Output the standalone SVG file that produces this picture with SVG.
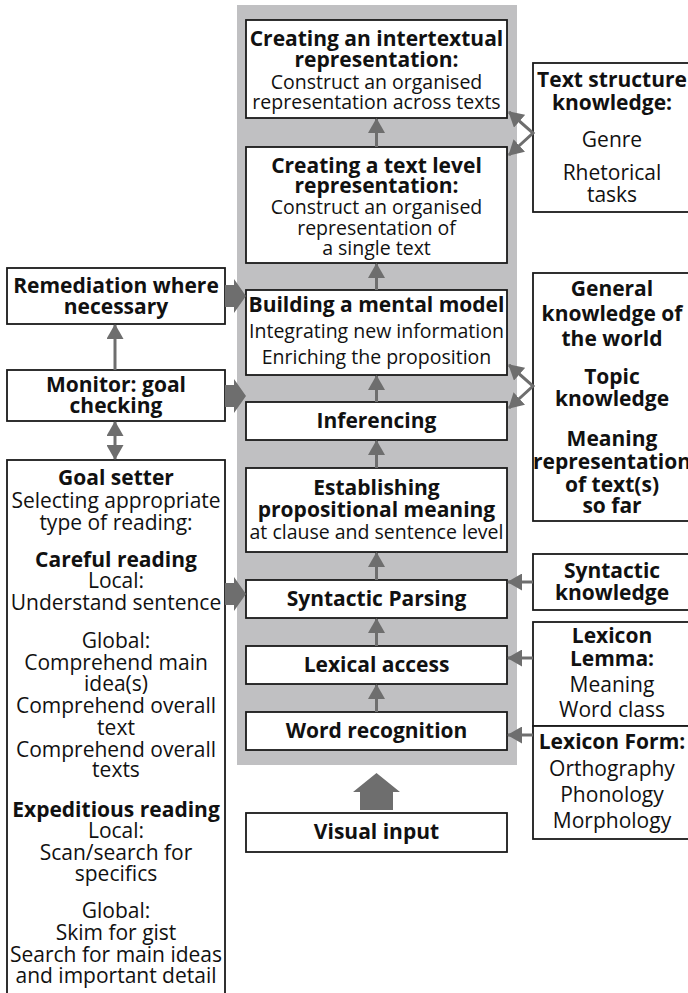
<svg xmlns="http://www.w3.org/2000/svg" width="688" height="993" viewBox="0 0 688 993">
<style>
text{font-family:"Open Sans","Liberation Sans",sans-serif;fill:#111;text-anchor:middle}
.b{font-weight:bold;font-size:21px}
.r{font-size:21px}
.rc{font-size:19.5px}
.box{fill:#fff;stroke:#1a1a1a;stroke-width:1.8}
.ln{stroke:#6e6e6e;stroke-width:3;fill:none}
.blk{fill:#6e6e6e}
</style>
<defs>
<marker id="ah" viewBox="0 0 15 17" markerWidth="15" markerHeight="17" refX="14" refY="8.5" orient="auto-start-reverse" markerUnits="userSpaceOnUse">
<path d="M0,0 L15,8.5 L0,17 z" fill="#6e6e6e"/>
</marker>
</defs>
<rect x="237" y="5" width="280" height="760" fill="#c0c0c2"/>

<g id="intertextual"><rect class="box" x="246" y="20" width="261" height="98"/>
<text><tspan class="b" x="376.5" y="46">Creating an intertextual</tspan><tspan class="b" x="376.5" y="67">representation:</tspan><tspan class="rc" x="376.5" y="89">Construct an organised</tspan><tspan class="rc" x="376.5" y="109">representation across texts</tspan></text></g>

<g id="textlevel"><rect class="box" x="246" y="147" width="261" height="116"/>
<text><tspan class="b" x="376.5" y="173">Creating a text level</tspan><tspan class="b" x="376.5" y="193">representation:</tspan><tspan class="rc" x="376.5" y="214">Construct an organised</tspan><tspan class="rc" x="376.5" y="235">representation of</tspan><tspan class="rc" x="376.5" y="255">a single text</tspan></text></g>

<g id="mentalmodel"><rect class="box" x="246" y="290" width="261" height="85"/>
<text><tspan class="b" x="376.5" y="312">Building a mental model</tspan><tspan class="rc" x="376.5" y="338">Integrating new information</tspan><tspan class="rc" x="376.5" y="364">Enriching the proposition</tspan></text></g>

<g id="inferencing"><rect class="box" x="246" y="402" width="261" height="38"/>
<text class="b" x="376.5" y="428">Inferencing</text></g>

<g id="propositional"><rect class="box" x="246" y="468" width="261" height="84"/>
<text><tspan class="b" x="376.5" y="495">Establishing</tspan><tspan class="b" x="376.5" y="517">propositional meaning</tspan><tspan class="rc" x="376.5" y="539">at clause and sentence level</tspan></text></g>

<g id="parsing"><rect class="box" x="246" y="580" width="261" height="38"/>
<text class="b" x="376.5" y="606">Syntactic Parsing</text></g>

<g id="lexical"><rect class="box" x="246" y="646" width="261" height="38"/>
<text class="b" x="376.5" y="672">Lexical access</text></g>

<g id="wordrec"><rect class="box" x="246" y="712" width="261" height="38"/>
<text class="b" x="376.5" y="738">Word recognition</text></g>

<g id="visual"><rect class="box" x="246" y="813" width="261" height="39"/>
<text class="b" x="376.5" y="839">Visual input</text></g>

<g id="textstructure"><rect class="box" x="533" y="63" width="162" height="149"/>
<text><tspan class="b" x="612" y="87">Text structure</tspan><tspan class="b" x="612" y="110">knowledge:</tspan><tspan class="r" x="612" y="147">Genre</tspan><tspan class="r" x="612" y="180">Rhetorical</tspan><tspan class="r" x="612" y="202">tasks</tspan></text></g>

<g id="general"><rect class="box" x="533" y="273" width="162" height="248"/>
<text><tspan class="b" x="612" y="296">General</tspan><tspan class="b" x="612" y="321">knowledge of</tspan><tspan class="b" x="612" y="346">the world</tspan><tspan class="b" x="612" y="384">Topic</tspan><tspan class="b" x="612" y="406">knowledge</tspan><tspan class="b" x="612" y="446">Meaning</tspan><tspan class="b" x="612" y="469">representation</tspan><tspan class="b" x="612" y="492">of text(s)</tspan><tspan class="b" x="612" y="513">so far</tspan></text></g>

<g id="syntactic"><rect class="box" x="533" y="554" width="162" height="56"/>
<text><tspan class="b" x="612" y="578">Syntactic</tspan><tspan class="b" x="612" y="600">knowledge</tspan></text></g>

<g id="lemma"><rect class="box" x="533" y="622" width="162" height="104"/>
<text><tspan class="b" x="612" y="643">Lexicon</tspan><tspan class="b" x="612" y="666">Lemma:</tspan><tspan class="r" x="612" y="692">Meaning</tspan><tspan class="r" x="612" y="717">Word class</tspan></text></g>

<g id="form"><rect class="box" x="533" y="726" width="162" height="113"/>
<text><tspan class="b" x="612" y="749">Lexicon Form:</tspan><tspan class="r" x="612" y="776">Orthography</tspan><tspan class="r" x="612" y="802">Phonology</tspan><tspan class="r" x="612" y="828">Morphology</tspan></text></g>

<g id="remediation"><rect class="box" x="7" y="268" width="218" height="56"/>
<text><tspan class="b" x="116" y="293">Remediation where</tspan><tspan class="b" x="116" y="314">necessary</tspan></text></g>

<g id="monitor"><rect class="box" x="7" y="370" width="218" height="51"/>
<text><tspan class="b" x="116" y="392">Monitor: goal</tspan><tspan class="b" x="116" y="413">checking</tspan></text></g>

<g id="goalsetter"><rect class="box" x="7" y="460" width="218" height="540"/>
<text><tspan class="b" x="116" y="485">Goal setter</tspan><tspan class="r" x="116" y="508">Selecting appropriate</tspan><tspan class="r" x="116" y="530">type of reading:</tspan><tspan class="b" x="116" y="567">Careful reading</tspan><tspan class="r" x="116" y="588">Local:</tspan><tspan class="r" x="116" y="610">Understand sentence</tspan><tspan class="r" x="116" y="648">Global:</tspan><tspan class="r" x="116" y="670">Comprehend main</tspan><tspan class="r" x="116" y="691">idea(s)</tspan><tspan class="r" x="116" y="713">Comprehend overall</tspan><tspan class="r" x="116" y="735">text</tspan><tspan class="r" x="116" y="757">Comprehend overall</tspan><tspan class="r" x="116" y="777">texts</tspan><tspan class="b" x="116" y="817">Expeditious reading</tspan><tspan class="r" x="116" y="838">Local:</tspan><tspan class="r" x="116" y="860">Scan/search for</tspan><tspan class="r" x="116" y="881">specifics</tspan><tspan class="r" x="116" y="918">Global:</tspan><tspan class="r" x="116" y="940">Skim for gist</tspan><tspan class="r" x="116" y="962">Search for main ideas</tspan><tspan class="r" x="116" y="983">and important detail</tspan></text></g>

<g id="connectors">
<line class="ln" x1="376.5" y1="147" x2="376.5" y2="119" marker-end="url(#ah)"/>
<line class="ln" x1="376.5" y1="290" x2="376.5" y2="264" marker-end="url(#ah)"/>
<line class="ln" x1="376.5" y1="402" x2="376.5" y2="376" marker-end="url(#ah)"/>
<line class="ln" x1="376.5" y1="468" x2="376.5" y2="441" marker-end="url(#ah)"/>
<line class="ln" x1="376.5" y1="580" x2="376.5" y2="553" marker-end="url(#ah)"/>
<line class="ln" x1="376.5" y1="646" x2="376.5" y2="619" marker-end="url(#ah)"/>
<line class="ln" x1="376.5" y1="712" x2="376.5" y2="685" marker-end="url(#ah)"/>
<polygon class="blk" points="360,810 393,810 393,792 400,792 376.5,773 353,792 360,792"/>
<polyline class="ln" points="509,112 533,133 509,155" marker-start="url(#ah)" marker-end="url(#ah)"/>
<polyline class="ln" points="509,365 533,386 509,408" marker-start="url(#ah)" marker-end="url(#ah)"/>
<line class="ln" x1="533" y1="582" x2="508" y2="582" marker-end="url(#ah)"/>
<line class="ln" x1="533" y1="658" x2="508" y2="658" marker-end="url(#ah)"/>
<line class="ln" x1="533" y1="735" x2="508" y2="735" marker-end="url(#ah)"/>
<line class="ln" x1="115" y1="370" x2="115" y2="325" marker-end="url(#ah)"/>
<line class="ln" x1="115" y1="422" x2="115" y2="459" marker-start="url(#ah)" marker-end="url(#ah)"/>
<polygon class="blk" points="225,285 234,285 234,279 246,296 234,313 234,307 225,307"/>
<polygon class="blk" points="225,385 234,385 234,379 246,396 234,413 234,407 225,407"/>
<polygon class="blk" points="225,583 234,583 234,577 246,594 234,611 234,605 225,605"/>
</g>
</svg>
